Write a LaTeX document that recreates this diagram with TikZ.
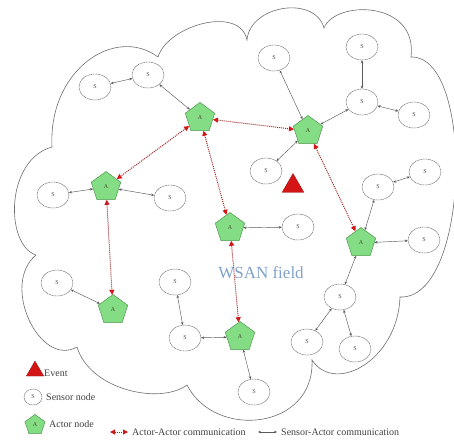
\documentclass[tikz,border=0pt]{standalone}
\usepackage{fontspec}
\setmainfont{Liberation Serif}
\usetikzlibrary{shapes.geometric,arrows.meta}
\definecolor{actfill}{HTML}{84DC84}
\definecolor{actdraw}{HTML}{4E9A4E}
\definecolor{evred}{HTML}{D41515}
\definecolor{aared}{HTML}{A02828}
\definecolor{fieldblue}{HTML}{7FA3CC}
\definecolor{cloudgray}{HTML}{6E6E6E}
\begin{document}
\begin{tikzpicture}[x=1pt,y=-1pt,
 actor/.style={regular polygon,regular polygon sides=5,fill=actfill,draw=actdraw,line width=0.5pt,minimum size=31pt,inner sep=0pt,font=\fontsize{6}{6}\selectfont,text=black!60!olive},
 sensor/.style={ellipse,draw=black!60,dash pattern=on 1.2pt off 0.5pt,line width=0.45pt,minimum width=32pt,minimum height=26pt,inner sep=0pt,font=\fontsize{6}{6}\selectfont,text=black!70},
 satip/.tip={Stealth[length=3pt,width=2.6pt]},
 aatip/.tip={Triangle[length=5pt,width=5pt,color=evred]},
 sa/.style={draw=black!65,line width=0.45pt,satip-satip},
 aa/.style={draw=aared,densely dotted,line width=1pt,aatip-aatip},
 event/.style={regular polygon,regular polygon sides=3,fill=evred,draw=evred!70!black,line width=0.3pt,inner sep=0pt},
 legtext/.style={font=\fontsize{10}{10}\selectfont,text=black!75,anchor=west,inner sep=0pt},
 cloud/.style={draw=cloudgray,line width=0.6pt}
]
\useasboundingbox (0,0) rectangle (454,441);

% cloud outline (WSAN field): one Bezier lobe between each pair of cusps
\draw[cloud]
 (52,147) .. controls (48,70) and (115,25) .. (158,57)
 .. controls (168,25) and (240,5) .. (247,40)
 .. controls (250,5) and (315,-5) .. (324,28)
 .. controls (335,0) and (418,0) .. (411,57)
 .. controls (475,55) and (470,300) .. (400,297)
 .. controls (398,360) and (335,395) .. (312,360)
 .. controls (315,430) and (215,440) .. (187,385)
 .. controls (160,405) and (90,390) .. (77,347)
 .. controls (40,368) and (0,285) .. (36,255)
 .. controls (5,245) and (5,160) .. (52,147) -- cycle;

\node[font=\fontsize{17}{17}\selectfont,text=fieldblue,inner sep=0pt] (field) at (261,273) {WSAN field};

% actors
\node[actor] (A1) at (200,118) {A};
\node[actor] (A2) at (308,131) {A};
\node[actor] (A3) at (106,187) {A};
\node[actor] (A4) at (230,228) {A};
\node[actor] (A5) at (113,310) {A};
\node[actor] (A6) at (240,337) {A};
\node[actor] (A7) at (361,243) {A};

% event
\node[event,minimum size=25pt] (ev) at (293,186) {};

% sensors
\node[sensor] (S1) at (95,87) {S};
\node[sensor] (S2) at (148,75) {S};
\node[sensor] (S3) at (53,195) {S};
\node[sensor] (S4) at (170,198) {S};
\node[sensor] (S5) at (274,58) {S};
\node[sensor] (S6) at (362,47) {S};
\node[sensor] (S7) at (362,102) {S};
\node[sensor] (S8) at (414,115) {S};
\node[sensor] (S9) at (266,171) {S};
\node[sensor] (S10) at (425,172) {S};
\node[sensor] (S11) at (378,187) {S};
\node[sensor] (S12) at (424,240) {S};
\node[sensor] (S13) at (298,227) {S};
\node[sensor] (S14) at (340,297) {S};
\node[sensor] (S15) at (307,342) {S};
\node[sensor] (S16) at (355,349) {S};
\node[sensor] (S17) at (254,392) {S};
\node[sensor] (S18) at (175,282) {S};
\node[sensor] (S19) at (185,338) {S};
\node[sensor] (S20) at (57,283) {S};

% sensor-actor / sensor-sensor links
\draw[sa] (S1) -- (S2);
\draw[sa] (S2) -- (A1);
\draw[sa] (S3) -- (A3);
\draw[sa] (A3) -- (S4);
\draw[sa] (S5) -- (A2);
\draw[sa] (S6) -- (S7);
\draw[sa] (S7) -- (A2);
\draw[sa] (S7) -- (S8);
\draw[sa] (S9) -- (A2);
\draw[sa] (S10) -- (S11);
\draw[sa] (S11) -- (A7);
\draw[sa] (A7) -- (S12);
\draw[sa] (A7) -- (S14);
\draw[sa] (S14) -- (S15);
\draw[sa] (S14) -- (S16);
\draw[sa] (A4) -- (S13);
\draw[sa] (S20) -- (A5);
\draw[sa] (S18) -- (S19);
\draw[sa] (S19) -- (A6);
\draw[sa] (A6) -- (S17);

% actor-actor links
\draw[aa] (A1) -- (A2);
\draw[aa] (A1) -- (A3);
\draw[aa] (A1) -- (A4);
\draw[aa] (A3) -- (A5);
\draw[aa] (A2) -- (A7);
\draw[aa] (A4) -- (A6);

% legend
\node[event,minimum size=20pt] (lev) at (35,371) {};
\node[legtext] (tev) at (44,373) {Event};
\node[sensor,minimum width=18pt,minimum height=16pt] (lsen) at (33,397) {S};
\node[legtext] (tsen) at (46,397) {Sensor node};
\node[actor,minimum size=21pt] (lact) at (35,425) {A};
\node[legtext] (tact) at (49,424) {Actor node};
\coordinate (aa1) at (110,432);
\coordinate (aa2) at (128,432);
\draw[aa] (aa1) -- (aa2);
\node[legtext] (taa) at (132,432) {Actor-Actor communication};
\coordinate (sa1) at (258,432);
\coordinate (sa2) at (277,432);
\draw[sa] (sa1) -- (sa2);
\node[legtext] (tsa) at (281,432) {Sensor-Actor communication};
\end{tikzpicture}
\end{document}
